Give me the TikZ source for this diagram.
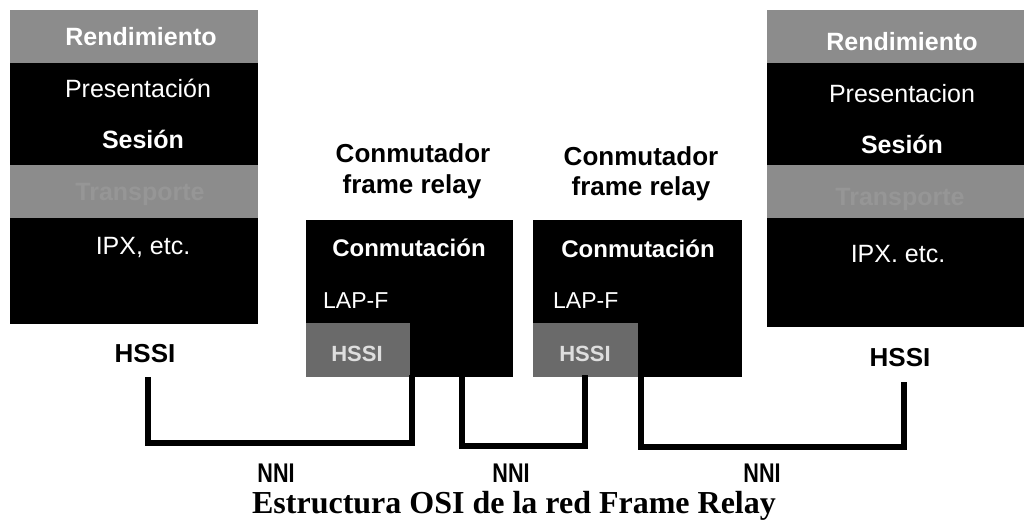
\documentclass[tikz,border=0pt]{standalone}
\usepackage{fontspec}
\setmainfont{Liberation Sans}
\newfontfamily\titlefont{Liberation Serif}
\definecolor{bandgray}{HTML}{8C8C8C}
\definecolor{fainttxt}{HTML}{969696}
\definecolor{hssigray}{HTML}{6A6A6A}
\definecolor{hssitxt}{HTML}{DEDEDE}
\begin{document}
\begin{tikzpicture}[x=1pt,y=-1pt,
  band/.style={draw=none, inner sep=0pt, outer sep=0pt, anchor=north west},
  lbl/.style={anchor=base, inner sep=0pt, text=white, font=\fontsize{25}{30}\selectfont},
  blbl/.style={anchor=base, inner sep=0pt, text=white, font=\fontsize{25}{30}\selectfont\bfseries},
  flbl/.style={anchor=base, inner sep=0pt, text=fainttxt, font=\fontsize{25}{30}\selectfont\bfseries},
  hlbl/.style={anchor=base, inner sep=0pt, text=hssitxt, font=\fontsize{22}{26}\selectfont\bfseries},
  klbl/.style={anchor=base, inner sep=0pt, text=black, font=\fontsize{26}{30}\selectfont\bfseries},
  nlbl/.style={anchor=base, inner sep=0pt, text=black, font=\fontsize{27}{30}\selectfont\bfseries},
  link/.style={draw=black, line width=6.5pt, line join=miter}
]
\useasboundingbox (0,0) rectangle (1024,530);
% left stack
\node[band, fill=bandgray, minimum width=248pt, minimum height=53pt] (Lrend) at (10,10) {};
\node[band, fill=black, minimum width=248pt, minimum height=102pt] (Lmid) at (10,63) {};
\node[band, fill=bandgray, minimum width=248pt, minimum height=53pt] (Ltrans) at (10,165) {};
\node[band, fill=black, minimum width=248pt, minimum height=106pt] (Llow) at (10,218) {};
\node[blbl] (tL1) at (141,45) {Rendimiento};
\node[lbl] (tL2) at (138,97) {Presentación};
\node[blbl] (tL3) at (143,148) {Sesión};
\node[flbl] (tL4) at (140,200) {Transporte};
\node[lbl] (tL5) at (143,254) {IPX, etc.};
\node[klbl] (hL) at (145,362) {HSSI};
% right stack
\node[band, fill=bandgray, minimum width=257pt, minimum height=53pt] (Rrend) at (767,10) {};
\node[band, fill=black, minimum width=257pt, minimum height=102pt] (Rmid) at (767,63) {};
\node[band, fill=bandgray, minimum width=257pt, minimum height=53pt] (Rtrans) at (767,165) {};
\node[band, fill=black, minimum width=257pt, minimum height=109pt] (Rlow) at (767,218) {};
\node[blbl] (tR1) at (902,50) {Rendimiento};
\node[lbl] (tR2) at (902,102) {Presentacion};
\node[blbl] (tR3) at (902,153) {Sesión};
\node[flbl] (tR4) at (900,205) {Transporte};
\node[lbl] (tR5) at (898,262) {IPX. etc.};
\node[klbl] (hR) at (900,366) {HSSI};
% switch 1
\node[klbl] (c1a) at (413,162) {Conmutador};
\node[klbl] (c1b) at (412,193) {frame relay};
\node[band, fill=black, minimum width=207pt, minimum height=103pt] (S1top) at (306,220) {};
\node[band, fill=hssigray, minimum width=104pt, minimum height=54pt] (S1hssi) at (306,323) {};
\node[band, fill=black, minimum width=103pt, minimum height=54pt] (S1low) at (410,323) {};
\node[blbl, font=\fontsize{24}{28}\selectfont\bfseries] (s1t1) at (409,256) {Conmutación};
\node[lbl, anchor=base west, font=\fontsize{23}{28}\selectfont] (s1t2) at (323,308) {LAP-F};
\node[hlbl] (s1t3) at (357,361) {HSSI};
% switch 2
\node[klbl] (c2a) at (641,165) {Conmutador};
\node[klbl] (c2b) at (641,195) {frame relay};
\node[band, fill=black, minimum width=209pt, minimum height=103pt] (S2top) at (533,220) {};
\node[band, fill=hssigray, minimum width=105pt, minimum height=54pt] (S2hssi) at (533,323) {};
\node[band, fill=black, minimum width=104pt, minimum height=54pt] (S2low) at (638,323) {};
\node[blbl, font=\fontsize{24}{28}\selectfont\bfseries] (s2t1) at (638,257) {Conmutación};
\node[lbl, anchor=base west, font=\fontsize{23}{28}\selectfont] (s2t2) at (553,308) {LAP-F};
\node[hlbl] (s2t3) at (585,361) {HSSI};
% connectors
\coordinate (pA1) at (412,375);
\coordinate (pA2) at (148,377);
\coordinate (pB1) at (462,375);
\coordinate (pB2) at (585,375);
\coordinate (pC1) at (641,375);
\coordinate (pC2) at (904,382);
\draw[link] (pA1) -- ++(0,68) -| (pA2);
\draw[link] (pB1) -- ++(0,71) -| (pB2);
\draw[link] (pC1) -- ++(0,72) -| (pC2);
% labels
\node[nlbl] (n1) at (276,482) {\scalebox{0.8}[1]{NNI}};
\node[nlbl] (n2) at (511,482) {\scalebox{0.8}[1]{NNI}};
\node[nlbl] (n3) at (762,482) {\scalebox{0.8}[1]{NNI}};
\node[anchor=base, inner sep=0pt, font=\titlefont\bfseries\fontsize{32}{36}\selectfont] (title) at (514,513) {Estructura OSI de la red Frame Relay};
\end{tikzpicture}
\end{document}
